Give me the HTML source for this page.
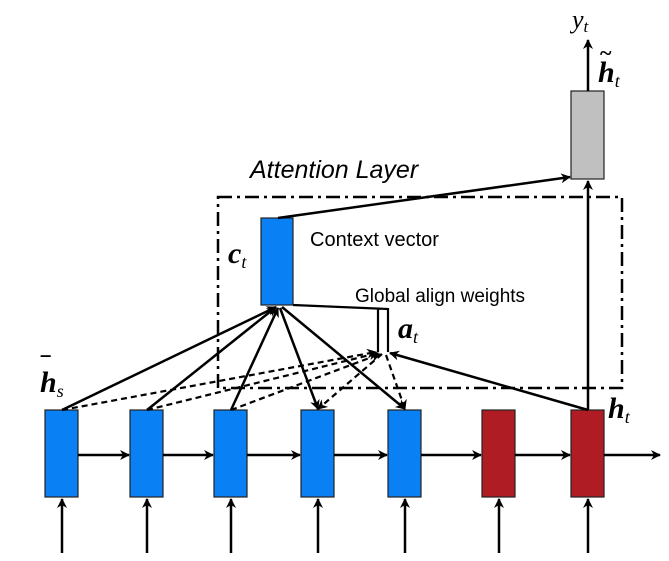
<!DOCTYPE html>
<html><head><style>
body{margin:0;background:#fff;width:669px;height:561px;overflow:hidden}
svg{display:block}
.m{font-family:"Liberation Serif",serif;font-style:italic;font-weight:bold}
.s{font-family:"Liberation Sans",sans-serif}
</style></head><body>
<svg width="669" height="561" viewBox="0 0 669 561">
<defs>
<marker id="a" markerWidth="10" markerHeight="10" refX="9" refY="5" orient="auto" markerUnits="userSpaceOnUse"><path d="M0,0 L10,5 L0,10 L3,5z" fill="#000"/></marker>
</defs>
<rect x="218" y="197" width="404" height="191" fill="none" stroke="#000" stroke-width="2.5" stroke-dasharray="14,5,3,5"/>
<text x="250" y="178" class="s" font-style="italic" font-size="25">Attention Layer</text>
<g stroke="#222" stroke-width="1.2">
<rect x="45" y="410" width="33" height="87" fill="#0a80f5"/>
<rect x="130" y="410" width="33" height="87" fill="#0a80f5"/>
<rect x="214" y="410" width="33" height="87" fill="#0a80f5"/>
<rect x="301" y="410" width="33" height="87" fill="#0a80f5"/>
<rect x="388" y="410" width="33" height="87" fill="#0a80f5"/>
<rect x="482" y="410" width="33" height="87" fill="#b01c24"/>
<rect x="571" y="410" width="33" height="87" fill="#b01c24"/>
<rect x="261" y="218" width="32" height="87" fill="#0a80f5"/>
<rect x="571" y="91" width="33" height="88" fill="#c0c0c0"/>
</g>
<g stroke="#000" stroke-width="2.5" fill="none" marker-end="url(#a)">
<line x1="78" y1="455" x2="129" y2="455"/>
<line x1="163" y1="455" x2="213" y2="455"/>
<line x1="247" y1="455" x2="300" y2="455"/>
<line x1="334" y1="455" x2="387" y2="455"/>
<line x1="421" y1="455" x2="481" y2="455"/>
<line x1="515" y1="455" x2="570" y2="455"/>
<line x1="604" y1="455" x2="660" y2="455"/>
<line x1="62" y1="553" x2="62" y2="499"/>
<line x1="147" y1="553" x2="147" y2="499"/>
<line x1="231" y1="553" x2="231" y2="499"/>
<line x1="318" y1="553" x2="318" y2="499"/>
<line x1="405" y1="553" x2="405" y2="499"/>
<line x1="499" y1="553" x2="499" y2="499"/>
<line x1="588" y1="553" x2="588" y2="499"/>
<line x1="588" y1="410" x2="588" y2="181"/>
<line x1="588" y1="91" x2="588" y2="40"/>
<line x1="278" y1="218" x2="570" y2="177"/>
<line x1="62" y1="410" x2="276" y2="307"/>
<line x1="147" y1="410" x2="276" y2="307"/>
<line x1="231" y1="410" x2="278" y2="308"/>
<line x1="280" y1="308" x2="318" y2="409"/>
<line x1="282" y1="307" x2="405" y2="409"/>
<line x1="588" y1="410" x2="390" y2="353"/>
</g>
<g stroke="#000" stroke-width="2.2" fill="none" stroke-dasharray="6,4" marker-end="url(#a)">
<line x1="62" y1="410" x2="376" y2="352"/>
<line x1="147" y1="410" x2="378" y2="353"/>
<line x1="231" y1="410" x2="380" y2="354"/>
<line x1="382" y1="354" x2="318" y2="409"/>
<line x1="386" y1="355" x2="405" y2="409"/>
</g>
<path d="M293,305 L388,309 L388,352 M378,309 L378,352" stroke="#000" stroke-width="2.2" fill="none"/>
<text x="310" y="246" class="s" font-size="20">Context vector</text>
<text x="355" y="302" class="s" font-size="19">Global align weights</text>
<text x="228" y="263" class="m" font-size="30">c<tspan font-size="18" font-weight="normal" dy="5">t</tspan></text>
<text x="398" y="338" class="m" font-size="30">a<tspan font-size="18" font-weight="normal" dy="5">t</tspan></text>
<text x="40" y="392" class="m" font-size="30">h<tspan font-size="18" font-weight="normal" dy="5">s</tspan></text>
<text x="42" y="373" font-size="22" font-weight="bold" font-family="Liberation Sans">‾</text>
<text x="608" y="418" class="m" font-size="30">h<tspan font-size="18" font-weight="normal" dy="5">t</tspan></text>
<text x="598" y="82" class="m" font-size="30">h<tspan font-size="18" font-weight="normal" dy="5">t</tspan></text>
<text x="600" y="60" font-size="22" font-weight="bold" font-family="Liberation Serif">~</text>
<text x="572" y="28" font-family="Liberation Serif" font-style="italic" font-size="26">y<tspan font-size="17" dy="4">t</tspan></text>
</svg>
</body></html>
